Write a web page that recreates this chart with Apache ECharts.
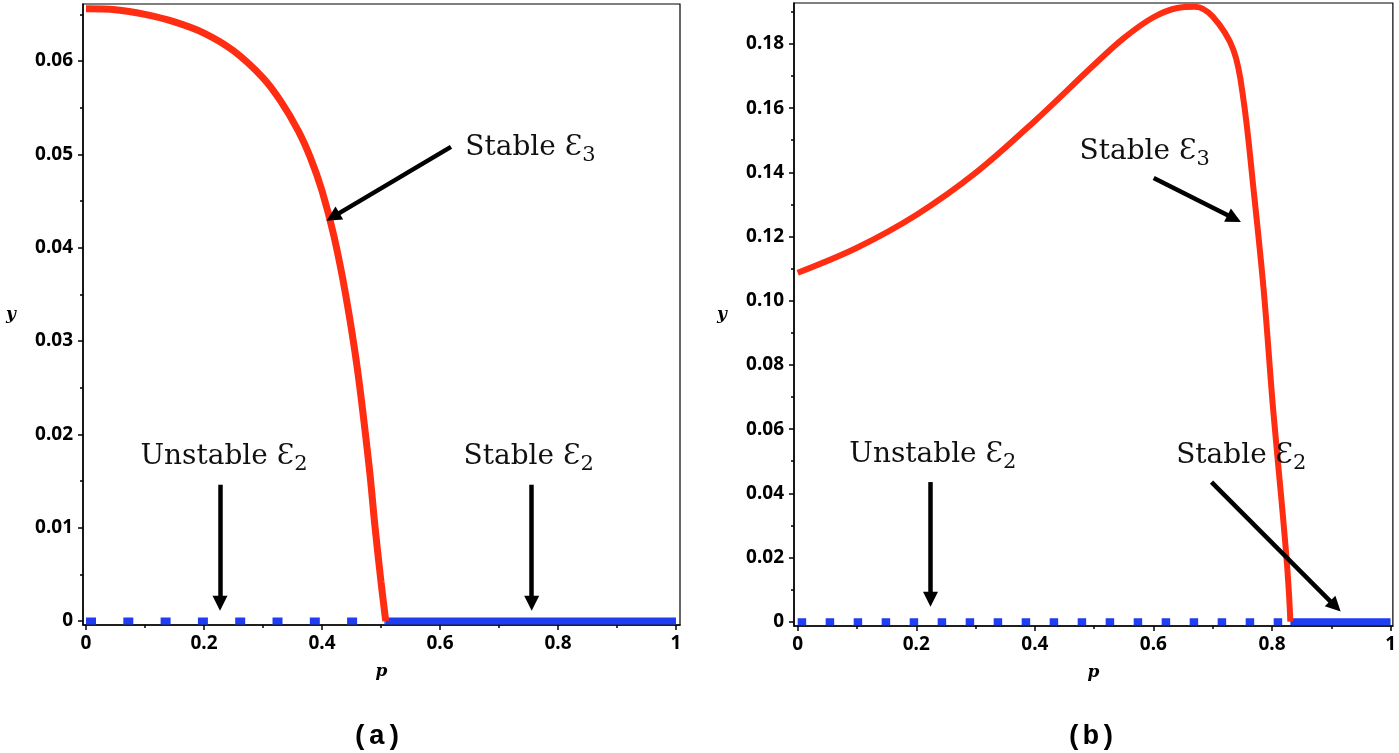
<!DOCTYPE html>
<html><head><meta charset="utf-8">
<script src="https://cdn.jsdelivr.net/npm/echarts/dist/echarts.min.js"></script>
<style>html,body{margin:0;padding:0;background:#fff}#c{width:1399px;height:753px}</style>
</head><body><div id="c"></div>
<script>
// ---- data: panel (a)
const pA = [0,0.05,0.1,0.15,0.2,0.25,0.3,0.33,0.36,0.38,0.40,0.42,0.44,0.46,0.48,0.49,0.5,0.508];
const yA = [0.0656,0.0655,0.0650,0.0642,0.0630,0.0611,0.0582,0.0557,0.0525,0.0497,0.0461,0.0413,0.0350,0.0270,0.0165,0.0100,0.0042,0];
const critA = 0.508;
// ---- data: panel (b)
const pB = [0,0.1,0.2,0.3,0.4,0.5,0.55,0.6,0.64,0.67,0.7,0.735,0.752,0.769,0.786,0.802,0.816,0.826,0.831];
const yB = [0.1087,0.1165,0.1267,0.1398,0.1560,0.1735,0.1818,0.1883,0.1912,0.1916,0.1885,0.1781,0.1625,0.1345,0.1033,0.0660,0.0379,0.0161,0];
const critB = 0.831;
// ---- ticks
const xTicks = [0,0.2,0.4,0.6,0.8,1];
const xMinor = [0.1,0.3,0.5,0.7,0.9];
const yTicksA = [0,0.01,0.02,0.03,0.04,0.05,0.06];
const yMinorA = [0.005,0.015,0.025,0.035,0.045,0.055,0.065];
const yTicksB = [0,0.02,0.04,0.06,0.08,0.10,0.12,0.14,0.16,0.18];
const yMinorB = [0.01,0.03,0.05,0.07,0.09,0.11,0.13,0.15,0.17,0.19];
// ---- annotations [text, sub, p, y]
const labelsA = [["Stable Ɛ","3",0.642,0.0507],["Unstable Ɛ","2",0.0915,0.0176],["Stable Ɛ","2",0.639,0.0176]];
const arrowsA = [[0.6186,0.0508,0.4185,0.0433],[0.2271,0.0146,0.2271,0.0019],[0.7554,0.0146,0.7554,0.0019]];
const labelsB = [["Stable Ɛ","3",0.4745,0.1463],["Unstable Ɛ","2",0.0862,0.0519],["Stable Ɛ","2",0.6375,0.0516]];
const arrowsB = [[0.6005,0.1382,0.7363,0.1256],[0.224,0.0435,0.224,0.0070],[0.698,0.0435,0.9069,0.0048]];

const RED = '#ff2d12', BLUE = '#1f3df2';
const tickFont = {color:'#000', fontWeight:'bold', fontFamily:'Noto Sans', fontSize:19};
const nameFont = {color:'#000', fontStyle:'italic', fontWeight:'bold', fontFamily:'DejaVu Serif', fontSize:17};
const fmtX = v => (v===0?'0':(v===1?'1':String(+v.toFixed(1))));
const fmtY = v => (v===0?'0':v.toFixed(2));

function xAxes(g,min,max){
  return [{
    type:'value', gridIndex:g, min, max, position:'bottom', name:'p', nameLocation:'middle', nameGap:38, nameTextStyle:nameFont,
    axisLine:{show:true,onZero:false,lineStyle:{color:'#000',width:1.5}},
    axisTick:{show:true,inside:false,length:5,lineStyle:{color:'#000',width:1.5},customValues:xTicks},
    axisLabel:{show:true,margin:9,customValues:xTicks,formatter:fmtX,...tickFont},
    splitLine:{show:false}
  },{
    type:'value', gridIndex:g, min, max, position:'bottom',
    axisLine:{show:false,onZero:false},
    axisTick:{show:true,inside:false,length:3,lineStyle:{color:'#000',width:1.5},customValues:xMinor},
    axisLabel:{show:false}, splitLine:{show:false}
  }];
}
function yAxes(g,min,max,ticks,minor){
  return [{
    type:'value', gridIndex:g, min, max, position:'left', name:'y', nameLocation:'middle', nameGap:67, nameRotate:0, nameTextStyle:nameFont,
    axisLine:{show:true,onZero:false,lineStyle:{color:'#000',width:1.5}},
    axisTick:{show:true,inside:false,length:5,lineStyle:{color:'#000',width:1.5},customValues:ticks},
    axisLabel:{show:true,margin:10,customValues:ticks,formatter:fmtY,...tickFont},
    splitLine:{show:false}
  },{
    type:'value', gridIndex:g, min, max, position:'left',
    axisLine:{show:false,onZero:false},
    axisTick:{show:true,inside:false,length:3,lineStyle:{color:'#000',width:1.5},customValues:minor},
    axisLabel:{show:false}, splitLine:{show:false}
  }];
}
const rich = {
  m:{fontFamily:'DejaVu Serif',fontSize:28,color:'#111',lineHeight:36,verticalAlign:'middle'},
  s:{fontFamily:'DejaVu Serif',fontSize:21,color:'#111',lineHeight:18,verticalAlign:'bottom'}
};
function marks(labels,arrows){
  return {
    markLine:{silent:true,animation:false,symbol:['none','triangle'],symbolSize:15,
      label:{show:false},lineStyle:{color:'#000',width:4.5,type:'solid'},emphasis:{disabled:true},
      data:arrows.map(a=>[{coord:[a[0],a[1]]},{coord:[a[2],a[3]]}])},
    markPoint:{silent:true,animation:false,symbol:'circle',symbolSize:1,itemStyle:{color:'rgba(0,0,0,0)'},
      data:labels.map(l=>({coord:[l[2],l[3]],label:{show:true,position:'right',distance:0,
        formatter:'{m|'+l[0]+'}{s|'+l[1]+'}',rich}}))}
  };
}
function panelSeries(xi,yi,ps,ys,crit,dash,wb,wr,labels,arrows){
  return [
    {type:'line',xAxisIndex:xi,yAxisIndex:yi,data:[[0,0],[crit,0]],showSymbol:false,
      lineStyle:{color:BLUE,width:wb,type:dash,cap:'butt'},silent:true},
    {type:'line',xAxisIndex:xi,yAxisIndex:yi,data:[[crit,0],[1,0]],showSymbol:false,
      lineStyle:{color:BLUE,width:wb,cap:'butt'},silent:true},
    Object.assign({type:'line',xAxisIndex:xi,yAxisIndex:yi,data:ps.map((p,i)=>[p,ys[i]]),showSymbol:false,
      smooth:0.35,lineStyle:{color:RED,width:wr,cap:'butt'},silent:true,z:3}, marks(labels,arrows))
  ];
}
const chart = echarts.init(document.getElementById('c'),null,{renderer:'canvas'});
chart.setOption({
  animation:false, backgroundColor:'#fff',
  grid:[
    {left:83,top:4,width:597,height:621,show:true,borderColor:'#000',borderWidth:1.2,containLabel:false},
    {left:794,top:3,width:601,height:623,show:true,borderColor:'#000',borderWidth:1.2,containLabel:false}
  ],
  xAxis:[...xAxes(0,-0.0051,1.0068),...xAxes(1,-0.0062,1.0039)],
  yAxis:[...yAxes(0,-0.00043,0.06611,yTicksA,yMinorA),...yAxes(1,-0.00134,0.19274,yTicksB,yMinorB)],
  series:[
    ...panelSeries(0,0,pA,yA,critA,[10,27.3],7,7,labelsA,arrowsA),
    ...panelSeries(2,2,pB,yB,critB,[8.5,19.5],7,6,labelsB,arrowsB)
  ],
  graphic:[
    {type:'text',x:377,y:737,style:{text:'(a)',fontFamily:'Liberation Mono',fontWeight:'bold',fontSize:28,fill:'#000',align:'center',verticalAlign:'middle'}},
    {type:'text',x:1091,y:737,style:{text:'(b)',fontFamily:'Liberation Mono',fontWeight:'bold',fontSize:28,fill:'#000',align:'center',verticalAlign:'middle'}}
  ]
});
</script></body></html>
